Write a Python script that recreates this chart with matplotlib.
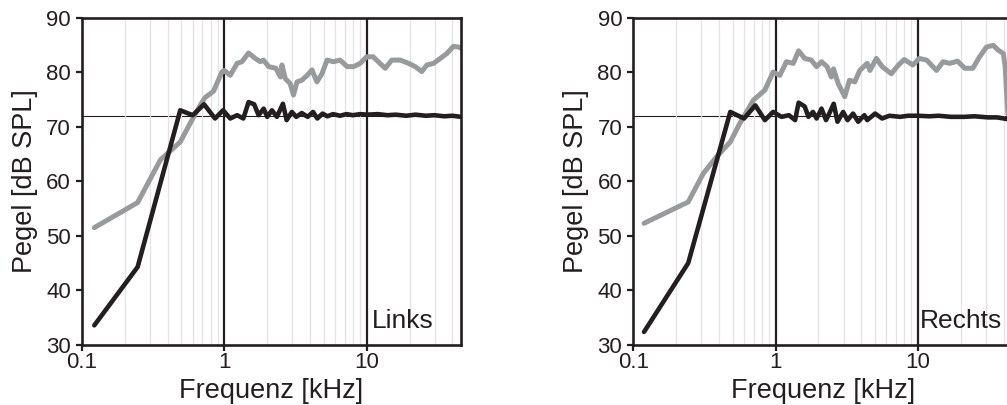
import matplotlib
matplotlib.use("Agg")
import matplotlib.pyplot as plt
from matplotlib.ticker import FixedLocator, FixedFormatter, LogLocator, NullFormatter

plt.rcParams['font.family'] = ['Liberation Sans', 'DejaVu Sans']

# ---- data ----
gray_L_f = [0.122, 0.246, 0.355, 0.49, 0.60, 0.68, 0.73, 0.84, 0.96, 1.0, 1.1, 1.23, 1.33, 1.48, 1.65,
            1.79, 1.88, 2.05, 2.3, 2.48, 2.54, 2.68, 2.9, 3.06, 3.24, 3.5, 3.82, 4.13, 4.47, 4.85, 5.27,
            5.85, 6.5, 7.3, 8.1, 9.0, 10.0, 11.1, 12.4, 13.5, 15.0, 17.2, 19.7, 21.9, 24.4, 26.5, 29.5,
            32.9, 36.6, 40.6, 44.0, 46]
gray_L = [51.5, 56.1, 63.9, 67.2, 71.5, 74.0, 75.3, 76.5, 80.0, 80.3, 79.4, 81.6, 81.9, 83.5, 82.5,
          81.9, 82.2, 81.0, 80.7, 79.1, 81.3, 78.8, 77.9, 75.8, 78.2, 78.5, 79.4, 80.4, 78.2, 79.7, 82.2,
          81.9, 82.2, 81.0, 81.0, 81.6, 82.8, 82.8, 81.6, 80.7, 82.2, 82.2, 81.6, 81.0, 80.1, 81.3, 81.6,
          82.5, 83.4, 84.7, 84.6, 84.4]

black_L_f = [0.122, 0.246, 0.49, 0.60, 0.72, 0.86, 0.98, 1.10, 1.23, 1.36, 1.48, 1.62, 1.74, 1.89, 2.0,
             2.16, 2.34, 2.58, 2.74, 2.98, 3.2, 3.5, 3.85, 4.2, 4.5, 4.9, 5.3, 5.8, 6.5, 7.2, 8.0, 9.0,
             10, 12, 14, 16, 19, 22, 26, 30, 35, 40, 46]
black_L = [33.6, 44.3, 73.0, 72.1, 74.1, 71.5, 73.0, 71.5, 72.1, 71.5, 74.5, 74.1, 72.1, 73.3, 71.8,
           73.0, 71.8, 74.2, 71.2, 72.7, 71.8, 72.5, 71.8, 72.7, 71.5, 72.4, 71.9, 72.3, 72.0, 72.3, 72.1, 72.3,
           72.2, 72.3, 72.1, 72.2, 72.0, 72.2, 72.0, 72.1, 71.9, 72.0, 71.8]

gray_R_f = [0.119, 0.243, 0.31, 0.385, 0.48, 0.56, 0.70, 0.84, 0.96, 1.07, 1.19, 1.33, 1.45, 1.6, 1.78,
            1.94, 2.1, 2.3, 2.46, 2.55, 2.75, 3.06, 3.3, 3.6, 3.9, 4.4, 4.6, 5.1, 5.6, 6.5, 7.3, 8.0, 9.2,
            10.2, 11.5, 13.5, 15.0, 16.7, 19.0, 21.3, 24.3, 27.1, 30.3, 33.8, 36.7, 39.8, 41.0, 42.1, 44]
gray_R = [52.3, 56.2, 61.4, 64.5, 67.2, 70.6, 74.9, 76.7, 80.0, 79.4, 81.9, 81.6, 83.9, 82.5, 82.2,
          81.0, 81.9, 81.0, 79.1, 80.6, 77.9, 75.5, 78.5, 78.2, 80.3, 81.6, 80.3, 82.5, 81.0, 79.7, 81.3, 82.3, 81.3,
          82.5, 82.2, 80.3, 81.9, 81.6, 82.0, 80.7, 80.7, 82.8, 84.6, 84.9, 84.0, 83.4, 81.0, 75.5, 68.0]

black_R_f = [0.119, 0.243, 0.48, 0.60, 0.72, 0.84, 0.96, 1.1, 1.24, 1.37, 1.45, 1.6, 1.7, 1.83, 1.94,
             2.1, 2.26, 2.38, 2.56, 2.72, 2.98, 3.2, 3.5, 3.8, 4.2, 4.4, 5.0, 5.6, 6.3, 7.5, 8.5,
             10, 12, 14, 17, 21, 25, 31, 36, 42, 46]
black_R = [32.4, 45.0, 72.7, 71.5, 73.9, 71.2, 72.7, 71.8, 72.1, 71.2, 74.4, 73.7, 71.8, 72.7, 71.5,
           73.3, 71.2, 72.4, 74.2, 70.9, 72.7, 71.2, 72.4, 70.9, 72.1, 71.2, 72.4, 71.5, 72.0, 71.8, 72.0,
           72.0, 71.9, 72.0, 71.8, 71.8, 71.9, 71.7, 71.7, 71.4, 71.3]

ref_level = 72
x_ticks = [0.1, 1, 10]
x_ticklabels = ["0.1", "1", "10"]
y_ticks = [30, 40, 50, 60, 70, 80, 90]
panel_labels = ["Links", "Rechts"]
xlabel = "Frequenz [kHz]"
ylabel = "Pegel [dB SPL]"

GRAY = '#999a9c'
BLACK = '#231f20'
TXT = '#231f20'

W, H = 1007, 405
fig = plt.figure(figsize=(W / 100, H / 100), dpi=100)

panels = [
    (82, gray_L_f, gray_L, black_L_f, black_L, panel_labels[0], 5),
    (633.3, gray_R_f, gray_R, black_R_f, black_R, panel_labels[1], 2),
]
ax_w = 379
ax_top, ax_bot = 17.5, 345

for left, gf, gv, bf, bv, lab, lab_dx in panels:
    ax = fig.add_axes([left / W, (H - ax_bot) / H, ax_w / W, (ax_bot - ax_top) / H])
    ax.set_xscale('log')
    ax.set_xlim(0.1, 46)
    ax.set_ylim(30, 90)
    # minor grid
    ax.xaxis.set_minor_locator(LogLocator(base=10, subs=range(2, 10)))
    ax.xaxis.set_minor_formatter(NullFormatter())
    ax.grid(which='minor', axis='x', color='#e3e3e3', lw=0.9, zorder=0)
    ax.tick_params(which='minor', length=0)
    for xv in x_ticks[1:]:
        ax.axvline(xv, color=BLACK, lw=1.6, zorder=1)
    ax.axhline(ref_level, color=BLACK, lw=0.8, zorder=1)
    ax.plot(gf, gv, color=GRAY, lw=3.6, solid_joinstyle='round', solid_capstyle='round', zorder=3)
    ax.plot(bf, bv, color=BLACK, lw=3.3, solid_joinstyle='round', solid_capstyle='round', zorder=4)
    ax.xaxis.set_major_locator(FixedLocator(x_ticks))
    ax.xaxis.set_major_formatter(FixedFormatter(x_ticklabels))
    ax.set_yticks(y_ticks)
    ax.tick_params(which='major', direction='out', length=4, width=1.6, colors=BLACK,
                   labelsize=16, labelcolor=TXT)
    ax.tick_params(axis='x', which='major', pad=1)
    ax.tick_params(axis='y', which='major', pad=4)
    for s in ax.spines.values():
        s.set_linewidth(1.9)
        s.set_color(BLACK)
        s.set_zorder(5)
    ax.set_xlabel(xlabel, fontsize=19.5, color=TXT, labelpad=4)
    ax.set_ylabel(ylabel, fontsize=19.5, color=TXT, labelpad=6)
    ax.annotate(lab, xy=(10, 30), xycoords='data', xytext=(lab_dx, 17), textcoords='offset pixels',
                fontsize=19, color=TXT, ha='left', va='baseline', zorder=6)

fig.savefig('out.png', dpi=100)
